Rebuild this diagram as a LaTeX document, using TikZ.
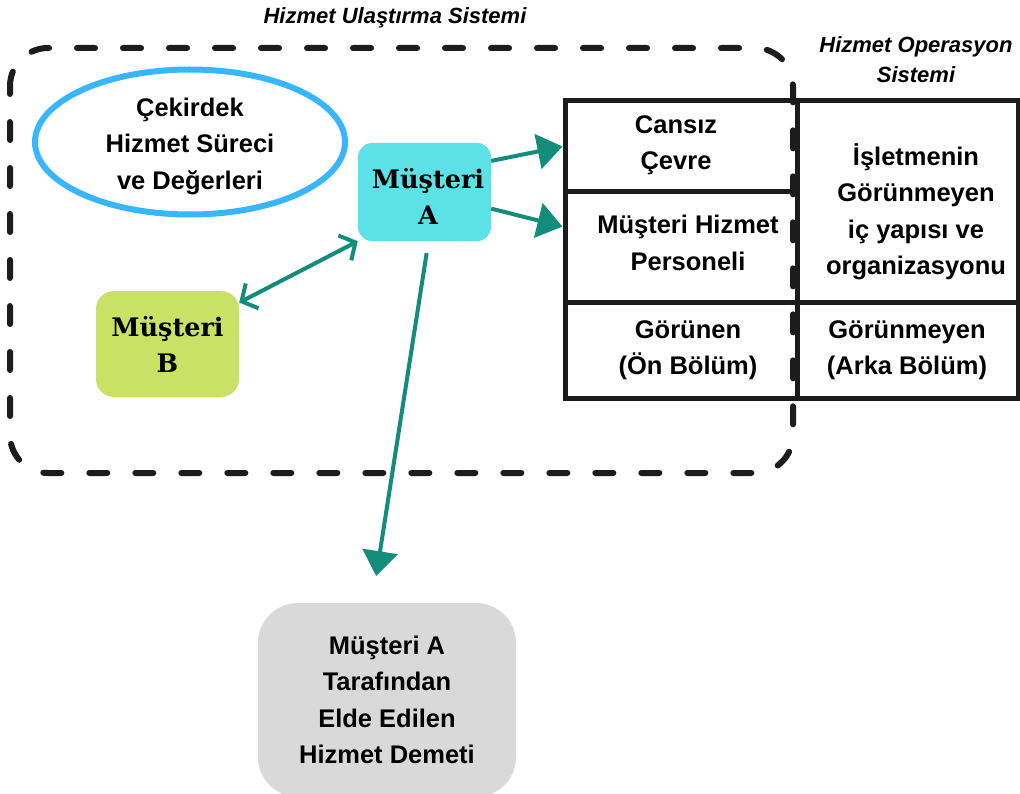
\documentclass[tikz,border=0pt]{standalone}
\usepackage{fontspec}
\setmainfont{Liberation Sans}
\newfontfamily\dvserif{DejaVu Serif}
\usetikzlibrary{shapes.geometric,arrows.meta,calc}
\definecolor{tealarr}{HTML}{138D7B}
\definecolor{ellblue}{HTML}{38B6FF}
\definecolor{custA}{HTML}{5CE1E6}
\definecolor{custB}{HTML}{C9E265}
\definecolor{bundlegray}{HTML}{D9D9D9}
\definecolor{ink}{HTML}{1C1C1C}
\begin{document}
\begin{tikzpicture}[x=1pt,y=-1pt,
  txt/.style={font=\fontsize{25.5}{36.5}\selectfont\bfseries, align=center, text=black, inner sep=0pt},
  ttl/.style={font=\fontsize{22}{30}\selectfont\bfseries\itshape, align=center, text=black, inner sep=0pt},
  cust/.style={font=\dvserif\fontsize{25.5}{36}\selectfont\bfseries, align=center, text=black, inner sep=0pt},
  cell/.style={draw=ink, line width=5pt, inner sep=0pt, rectangle},
  tarrow/.style={draw=tealarr, line width=4pt},
  bigtip/.style={-{Triangle[length=25pt,width=35pt]}},
  ]
\clip (0,0) rectangle (1020,794);
\fill[white] (0,0) rectangle (1020,794);

% dashed service delivery system boundary
\draw[ink, line width=6pt, line cap=round, dash pattern=on 18pt off 28pt, dash phase=10pt, rounded corners=38pt]
  (10,48) rectangle (793,473);

% titles
\node[ttl] (title1) at (395,18) {Hizmet Ulaştırma Sistemi};
\node[ttl] (title2) at (916,60) {Hizmet Operasyon\\Sistemi};

% table cells
\node[cell, minimum width=232pt, minimum height=91pt] (c1) at (681,146.5) {};
\node[cell, minimum width=232pt, minimum height=111pt] (c2) at (681,247.5) {};
\node[cell, minimum width=232pt, minimum height=95pt] (c3) at (681,350.5) {};
\node[cell, minimum width=221pt, minimum height=202pt] (c4) at (907.5,202) {};
\node[cell, minimum width=221pt, minimum height=95pt] (c5) at (907.5,350.5) {};

\node[txt] (t1) at (676,145) {Cansız\\Çevre};
\node[txt] (t2) at (688,243) {Müşteri Hizmet\\Personeli};
\node[txt] (t3) at (688,350) {Görünen\\(Ön Bölüm)};
\node[txt] (t4) at (916,212) {İşletmenin\\Görünmeyen\\iç yapısı ve\\organizasyonu};
\node[txt] (t5) at (907,350) {Görünmeyen\\(Arka Bölüm)};

% core service ellipse
\node[ellipse, draw=ellblue, line width=6pt, minimum width=310pt, minimum height=145pt, inner sep=0pt] (core) at (190,142) {};
\node[txt] (coretxt) at (190,146) {Çekirdek\\Hizmet Süreci\\ve Değerleri};

% customers
\node[cust, fill=custA, rounded corners=14pt, minimum width=133pt, minimum height=98pt] (mA) at (424.5,192) {};
\node[cust] (mAtxt) at (428,196) {Müşteri\\A};
\node[cust, fill=custB, rounded corners=18pt, minimum width=143pt, minimum height=106pt] (mB) at (167.5,344) {Müşteri\\B};

% bundle
\node[fill=bundlegray, rounded corners=40pt, minimum width=258pt, minimum height=194pt, inner sep=0pt,
      font=\fontsize{25.5}{36.3}\selectfont\bfseries, align=center] (bundle) at (387,700)
  {Müşteri A\\Tarafından\\Elde Edilen\\Hizmet Demeti};

% connectors
\draw[tarrow, bigtip] (mA.25) -- (c1.west);
\draw[tarrow, bigtip] (mA.-14) -- (c2.170);
\draw[tarrow, {Straight Barb[length=12pt,width=28pt]}-{Straight Barb[length=12pt,width=28pt]}, line cap=round]
  (mB.30) -- (mA.south west);
\coordinate (d1) at ($(mA.south)+(4,0)$);
\coordinate (d2) at ($(bundle.north)+(-15,0)$);
\draw[tarrow, bigtip, shorten <=12pt, shorten >=27pt] (d1) -- (d2);
\end{tikzpicture}
\end{document}
